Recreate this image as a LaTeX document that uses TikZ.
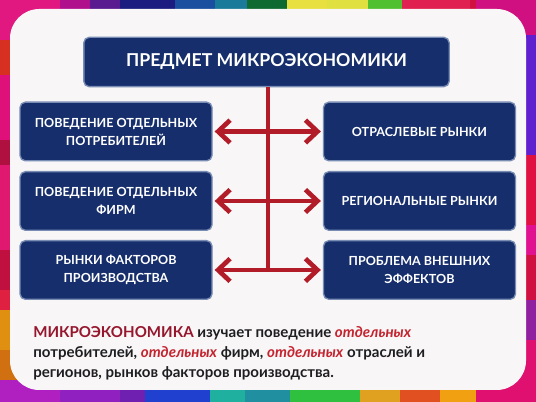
\documentclass[tikz,border=0pt]{standalone}
\usepackage{fontspec}
\setmainfont{Lato}
\usetikzlibrary{arrows.meta}

\definecolor{navy}{RGB}{22,46,108}
\definecolor{boxedge}{RGB}{120,140,180}
\definecolor{linkred}{RGB}{178,28,40}
\definecolor{panel}{RGB}{248,246,246}
\definecolor{darkred}{RGB}{150,22,45}
\definecolor{wordred}{RGB}{196,36,48}
\definecolor{ink}{RGB}{30,30,34}

\tikzset{
  box/.style={draw=boxedge, line width=1pt, fill=navy, rounded corners=4pt,
    text=white, font=\bfseries\fontsize{9.4}{13.5}\selectfont, align=center,
    minimum width=144pt, minimum height=44pt, inner sep=2pt},
  link/.style={draw=linkred, line width=3.5pt,
    {Straight Barb[length=9pt,width=17pt]}-{Straight Barb[length=9pt,width=17pt]},
    shorten <=1.5pt, shorten >=1.5pt},
  trunk/.style={draw=linkred, line width=3.5pt}
}

\begin{document}
\begin{tikzpicture}[x=0.75pt,y=-0.75pt]
\useasboundingbox (0,0) rectangle (536,402);

% coloured tiles round the panel
\foreach \a/\b/\r/\g/\bl in {0/15/230/24/90,15/55/224/21/144,55/90/176/16/140,90/120/90/26/144,
  120/175/28/28/128,175/215/26/79/160,215/247/26/122/154,247/287/14/106/48,
  287/327/232/224/64,327/368/224/224/64,368/402/80/192/48,402/470/224/32/80,
  470/500/208/16/64,500/536/112/32/192}
  {\definecolor{tile}{RGB}{\r,\g,\bl}\fill[tile] (\a,0) rectangle (\b,60);}
\foreach \a/\b/\r/\g/\bl in {0/30/208/112/16,30/60/192/32/176,60/120/144/32/192,120/145/112/32/176,
  145/210/32/64/208,210/245/32/176/160,245/290/32/144/160,290/360/48/192/64,
  360/400/224/160/32,400/440/224/80/32,440/480/240/160/16,480/536/208/16/112}
  {\definecolor{tile}{RGB}{\r,\g,\bl}\fill[tile] (\a,340) rectangle (\b,402);}
\foreach \a/\b/\r/\g/\bl in {0/40/224/24/128,40/75/216/48/32,75/140/224/16/122,140/165/176/16/64,
  165/250/224/24/112,250/290/192/16/64,290/310/224/32/64,310/350/224/144/16,
  350/380/208/112/16,380/402/176/32/192}
  {\definecolor{tile}{RGB}{\r,\g,\bl}\fill[tile] (0,\a) rectangle (60,\b);}
\foreach \a/\b/\r/\g/\bl in {0/35/208/16/128,35/155/96/32/208,155/225/224/16/64,225/255/224/16/144,
  255/300/208/16/64,300/340/144/32/160,340/402/224/16/112}
  {\definecolor{tile}{RGB}{\r,\g,\bl}\fill[tile] (476,\a) rectangle (536,\b);}

% white panel
\fill[panel, rounded corners=22pt] (10,9) rectangle (526,390);

% boxes
\node[box, minimum width=274pt, minimum height=37pt, font=\bfseries\fontsize{13.3}{16}\selectfont] (t) at (266.5,62) {ПРЕДМЕТ МИКРОЭКОНОМИКИ};

\node[box] (l1) at (116,131.5) {ПОВЕДЕНИЕ ОТДЕЛЬНЫХ\\ПОТРЕБИТЕЛЕЙ};
\node[box] (l2) at (116,201) {ПОВЕДЕНИЕ ОТДЕЛЬНЫХ\\ФИРМ};
\node[box] (l3) at (116,270) {РЫНКИ ФАКТОРОВ\\ПРОИЗВОДСТВА};

\node[box] (r1) at (419.5,131.5) {ОТРАСЛЕВЫЕ РЫНКИ};
\node[box] (r2) at (419.5,201) {РЕГИОНАЛЬНЫЕ РЫНКИ};
\node[box] (r3) at (419.5,270) {ПРОБЛЕМА ВНЕШНИХ\\ЭФФЕКТОВ};

% connectors
\coordinate (top) at (268,62);
\coordinate (bot) at (268,270);
\draw[trunk] (top |- t.south) -- (bot);
\draw[link] (l1) -- (r1);
\draw[link] (l2) -- (r2);
\draw[link] (l3) -- (r3);

% note
\node[anchor=north west, align=left, inner sep=0pt, text=ink,
  font=\bfseries\fontsize{11.3}{15}\selectfont] (note) at (33,326)
  {\textcolor{darkred}{МИКРОЭКОНОМИКА} изучает поведение \textcolor{wordred}{\textit{отдельных}}\\
   потребителей, \textcolor{wordred}{\textit{отдельных}} фирм, \textcolor{wordred}{\textit{отдельных}} отраслей и\\
   регионов, рынков факторов производства.};
\end{tikzpicture}
\end{document}
